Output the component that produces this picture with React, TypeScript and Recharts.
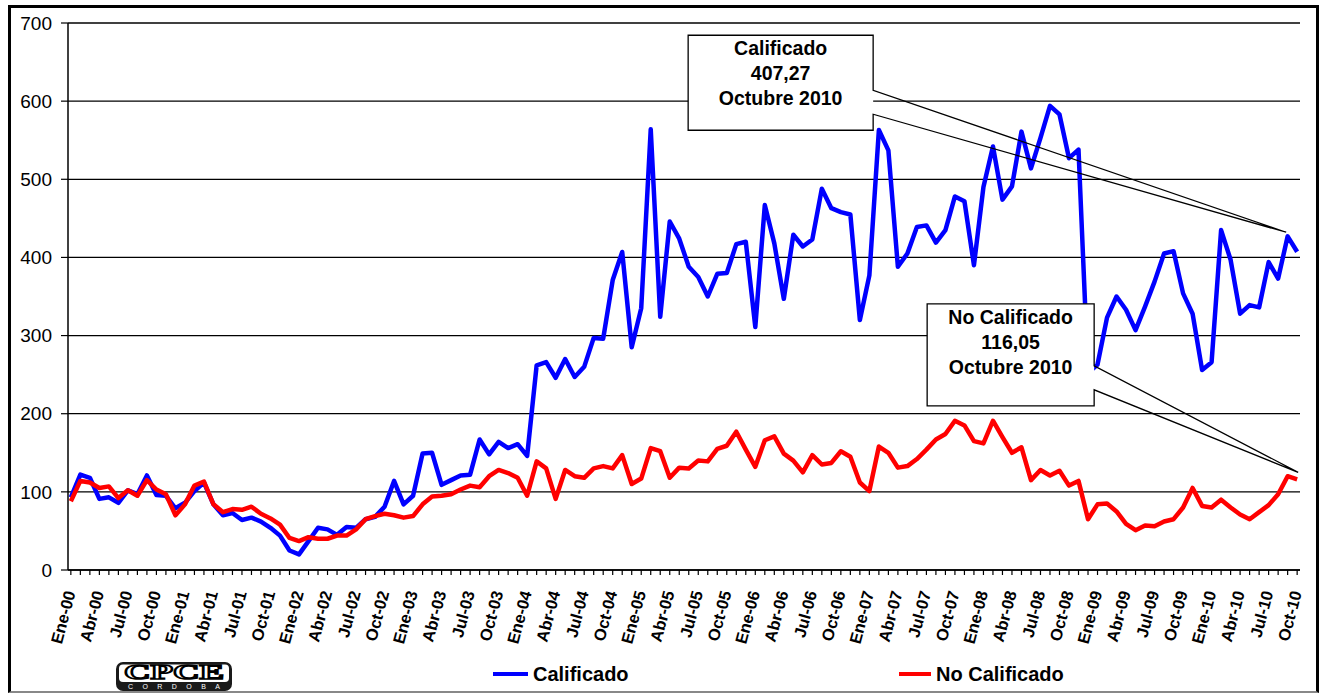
import React from "react";
import {
  CartesianGrid,
  Legend,
  Line,
  LineChart,
  ReferenceDot,
  XAxis,
  YAxis,
} from "recharts";

const MESES = ["Ene", "Feb", "Mar", "Abr", "May", "Jun", "Jul", "Ago", "Sep", "Oct", "Nov", "Dic"];
const ANIOS = ["00", "01", "02", "03", "04", "05", "06", "07", "08", "09", "10"];

// Ene-00 .. Oct-10
const LABELS = ANIOS.flatMap((a) => MESES.map((m) => `${m}-${a}`)).slice(0, 130);

const CALIFICADO = [
  93, 122, 118, 91, 93, 86, 102, 97, 121, 96, 95, 79,
  86, 101, 112, 84, 70, 73, 64, 67, 62, 54, 44, 25,
  20, 37, 54, 52, 45, 55, 54, 65, 68, 81, 114, 84,
  95, 149, 150, 109, 115, 121, 122, 167, 148, 164, 156, 161,
  146, 262, 266, 246, 270, 247, 260, 297, 296, 371, 407, 285,
  335, 564, 324, 446, 424, 388, 375, 350, 379, 380, 417, 420,
  311, 467, 418, 347, 429, 414, 423, 488, 463, 458, 455, 320,
  377, 563, 537, 388, 405, 439, 441, 419, 435, 478, 472, 390,
  490, 542, 474, 491, 561, 514, 553, 594, 583, 527, 538, 252,
  263, 323, 350, 333, 307, 337, 369, 405, 408, 354, 328, 256,
  266, 435, 397, 328, 339, 336, 394, 373, 427, 407.27,
];

const NO_CALIFICADO = [
  88, 114, 112, 105, 107, 92, 102, 95, 115, 103, 97, 70,
  84, 108, 113, 84, 74, 78, 77, 81, 72, 66, 58, 41,
  37, 42, 40, 40, 44, 44, 52, 65, 69, 72, 70, 67,
  69, 84, 94, 95, 97, 103, 108, 106, 120, 128, 124, 118,
  95, 139, 130, 91, 128, 120, 118, 130, 133, 130, 147, 110,
  117, 156, 152, 118, 131, 130, 140, 139, 155, 159, 177, 154,
  132, 166, 171, 149, 140, 125, 147, 135, 137, 152, 145, 112,
  101, 158, 150, 131, 133, 142, 154, 167, 174, 191, 185, 165,
  162, 191, 170, 150, 157, 115, 128, 121, 127, 108, 114, 65,
  84, 85, 75, 59, 51, 57, 56, 62, 65, 80, 105, 82,
  80, 90, 80, 71, 65, 74, 83, 97, 120, 116.05,
];

const Y_TICKS = [0, 100, 200, 300, 400, 500, 600, 700];
const X_TICKS = LABELS.map((_, i) => i);

const data = LABELS.map((mes, i) => ({
  i,
  mes,
  calificado: CALIFICADO[i],
  noCalificado: NO_CALIFICADO[i],
}));

const FONT = "'Liberation Sans', Arial, sans-serif";
const LAST = LABELS.length - 1;

function XTick(props: any) {
  const { x, y, payload } = props;
  const i = payload.value as number;
  if (i % 3 !== 0) return <g />;
  return (
    <text
      transform={`translate(${x - 1},${y + 14}) rotate(-75)`}
      textAnchor="end"
      dominantBaseline="central"
      fontSize={16.5}
      fontWeight="bold"
      fill="#000"
    >
      {LABELS[i]}
    </text>
  );
}

// caja con flecha; offsets relativos al punto señalado
function Callout(props: any) {
  const { cx, cy, box, lines } = props;
  const [l, t, r, b, w1, w2, tx, ty] = box;
  const x1 = cx + l, x2 = cx + r, y1 = cy + t, y2 = cy + b;
  const pts = [
    [x1, y1], [x2, y1], [x2, cy + w1], [cx + tx, cy + ty],
    [x2, cy + w2], [x2, y2], [x1, y2],
  ];
  const mid = (x1 + x2) / 2;
  return (
    <g>
      <rect x={x1} y={y1} width={x2 - x1} height={y2 - y1} fill="#fff" />
      <polygon points={pts.map((p) => p.join(",")).join(" ")} fill="none" stroke="#000" strokeWidth={1.3} />
      {lines.map((s: string, k: number) => (
        <text
          key={k}
          x={mid}
          y={y1 + 13 + k * 25}
          textAnchor="middle"
          dominantBaseline="central"
          fontSize={19.5}
          fontWeight="bold"
          fontFamily={FONT}
          fill="#000"
        >
          {s}
        </text>
      ))}
    </g>
  );
}

function Logo() {
  return (
    <svg width={118} height={30} style={{ position: "absolute", left: 115, top: 6 }}>
      <rect x={1} y={1} width={116} height={29} rx={7} fill="#1a1a1a" />
      <rect x={4} y={3.5} width={110} height={17.5} rx={4} fill="#fff" />
      <text
        x={59}
        y={18}
        textAnchor="middle"
        fontFamily="'Liberation Serif', 'DejaVu Serif', serif"
        fontWeight="bold"
        fontSize={20}
        fill="#fff"
        stroke="#000"
        strokeWidth={1.5}
        textLength={100}
        lengthAdjust="spacingAndGlyphs"
      >
        CPCE
      </text>
      <text
        x={59}
        y={28}
        textAnchor="middle"
        fontFamily={FONT}
        fontSize={7}
        fill="#fff"
        textLength={92}
        lengthAdjust="spacing"
      >
        CORDOBA
      </text>
    </svg>
  );
}

function Leyenda() {
  const item = (left: number, len: number, color: string, text: string) => (
    <div style={{ position: "absolute", left, top: 6, height: 26, display: "flex", alignItems: "center" }}>
      <div style={{ width: len, height: 4.5, background: color, marginRight: 5 }} />
      <span style={{ fontSize: 20, fontWeight: "bold", fontFamily: FONT, color: "#000" }}>{text}</span>
    </div>
  );
  return (
    <div style={{ position: "relative", width: 1322, height: 35 }}>
      <Logo />
      {item(493, 35, "#0000ff", "Calificado")}
      {item(899, 32, "#ff0000", "No Calificado")}
    </div>
  );
}

export default function App() {
  return (
    <div style={{ position: "absolute", left: 0, top: 0, width: 1322, height: 693, background: "#fff" }}>
      <div
        style={{
          position: "absolute",
          left: 8,
          top: 5,
          width: 1311,
          height: 688,
          boxSizing: "border-box",
          borderTop: "3px solid #000",
          borderLeft: "3px solid #000",
          borderRight: "3px solid #000",
          borderBottom: "2px solid #888",
        }}
      />
      <div style={{ position: "absolute", left: 0, top: 0 }}>
        <LineChart
          width={1322}
          height={693}
          data={data}
          margin={{ top: 23, right: 22, bottom: 3, left: 8 }}
          style={{ fontFamily: FONT }}
        >
          <CartesianGrid vertical={false} stroke="#000" strokeWidth={1.3} />
          <XAxis
            type="number"
            dataKey="i"
            domain={[-0.3, LAST + 0.3]}
            ticks={X_TICKS}
            interval={0}
            height={85}
            tickSize={5}
            tick={<XTick />}
            axisLine={{ stroke: "#000", strokeWidth: 1.5 }}
            tickLine={{ stroke: "#000", strokeWidth: 1.2 }}
          />
          <YAxis
            domain={[0, 700]}
            ticks={Y_TICKS}
            width={60}
            tickSize={7}
            tickMargin={9}
            tick={{ fontSize: 19, fill: "#000" }}
            axisLine={{ stroke: "#000", strokeWidth: 1.5 }}
            tickLine={{ stroke: "#000", strokeWidth: 1.2 }}
          />
          <YAxis
            yAxisId="borde"
            orientation="right"
            domain={[0, 700]}
            width={0}
            tick={false}
            tickLine={false}
            axisLine={{ stroke: "#888", strokeWidth: 2 }}
          />
          <Legend verticalAlign="bottom" content={() => <Leyenda />} wrapperStyle={{ left: 0, width: 1322, height: 35 }} />
          <Line
            dataKey="calificado"
            name="Calificado"
            stroke="#0000ff"
            strokeWidth={4.5}
            strokeLinejoin="round"
            dot={false}
            isAnimationActive={false}
          />
          <Line
            dataKey="noCalificado"
            name="No Calificado"
            stroke="#ff0000"
            strokeWidth={4.5}
            strokeLinejoin="round"
            dot={false}
            isAnimationActive={false}
          />
          <ReferenceDot
            x={LAST}
            y={CALIFICADO[LAST]}
            r={0}
            shape={(p: any) => (
              <Callout
                {...p}
                box={[-609, -216.5, -424, -121.5, -161.5, -137.5, -11, -19.5]}
                lines={["Calificado", "407,27", "Octubre 2010"]}
              />
            )}
          />
          <ReferenceDot
            x={LAST}
            y={NO_CALIFICADO[LAST]}
            r={0}
            shape={(p: any) => (
              <Callout
                {...p}
                box={[-370, -175.5, -203, -73.5, -113.5, -89.5, 1, -7]}
                lines={["No Calificado", "116,05", "Octubre 2010"]}
              />
            )}
          />
        </LineChart>
      </div>
    </div>
  );
}
